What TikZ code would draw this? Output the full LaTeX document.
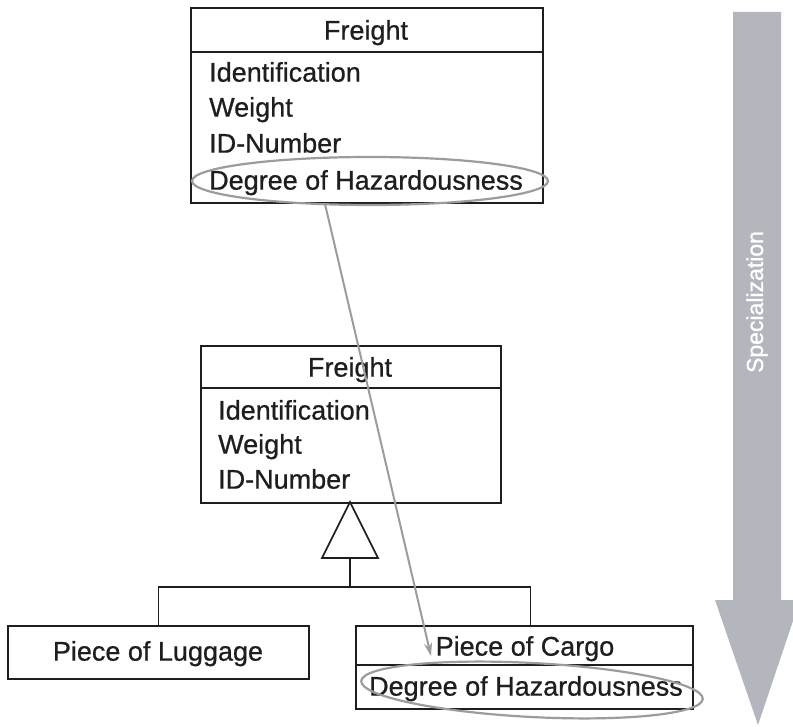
\documentclass[tikz,border=0pt]{standalone}
\usepackage{fontspec}
\setmainfont{Liberation Sans}[FakeBold=0.7]
\newfontfamily\specfont{Liberation Sans}[FakeBold=1.2]
\usetikzlibrary{shapes.geometric,arrows.meta}
\definecolor{arrowgray}{HTML}{B3B6BC}
\definecolor{hlgray}{HTML}{9C9C9C}
\definecolor{ink}{HTML}{1E1E1E}
\begin{document}
\begin{tikzpicture}[x=1pt,y=-1pt,
  box/.style={draw=ink,line width=2pt,inner sep=0pt,anchor=north west},
  boxline/.style={draw=ink,line width=1.8pt},
  lbl/.style={font=\fontsize{27}{30}\selectfont,inner sep=0pt,text=ink,text height=19.3pt,text depth=0pt},
  row/.style={lbl,anchor=west},
  conn/.style={draw=ink,line width=1.6pt},
  hl/.style={draw=hlgray,line width=2pt},
  hlell/.style={ellipse,draw=hlgray,line width=2.2pt,inner sep=0pt}]
\useasboundingbox (0,0) rectangle (793,727);
\fill[white] (0,0) rectangle (793,727);

% big specialization arrow
\fill[arrowgray] (733,12) -- (781,12) -- (781,600) -- (800,600) -- (758,725) -- (715,600) -- (733,600) -- cycle;
\node[font=\specfont\fontsize{23}{26}\selectfont,text=white,rotate=90,inner sep=0pt] (spec) at (757,302) {Specialization};

% top Freight class
\node[box,minimum width=352pt,minimum height=195pt] (f1) at (190,7) {};
\draw[boxline] ([yshift=-45pt]f1.north west) -- ([yshift=-45pt]f1.north east);
\node[lbl] (f1t) at (366,30) {Freight};
\node[row] (f1a) at (209,72) {Identification};
\node[row] (f1b) at (209,107) {Weight};
\node[row] (f1c) at (209,143) {ID-Number};
\node[row] (f1d) at (209,180) {Degree of Hazardousness};

% middle Freight class
\node[box,minimum width=300pt,minimum height=157pt] (f2) at (200,345) {};
\draw[boxline] ([yshift=-43pt]f2.north west) -- ([yshift=-43pt]f2.north east);
\node[lbl] (f2t) at (350,367) {Freight};
\node[row] (f2a) at (218,410) {Identification};
\node[row] (f2b) at (218,444) {Weight};
\node[row] (f2c) at (218,479) {ID-Number};

% generalization triangle
\coordinate (triapex) at (350,502);
\coordinate (tribase) at (350,558);
\draw[conn,fill=white] (triapex) -- (378,558) -- (322,558) -- cycle;

% subclasses
\node[box,minimum width=301pt,minimum height=53pt] (lug) at (7,625) {};
\node[lbl] (lugt) at (158,651) {Piece of Luggage};
\node[box,minimum width=337pt,minimum height=83pt] (cg) at (355,625) {};
\draw[boxline] ([yshift=-40pt]cg.north west) -- ([yshift=-40pt]cg.north east);
\node[lbl] (cgt) at (525,646) {Piece of Cargo};
\node[lbl] (cgd) at (526,686) {Degree of Hazardousness};

% inheritance connectors
\coordinate (bar) at (350,587);
\draw[conn] (tribase) -- (bar);
\draw[conn] (lug.north) -- ++(0,-38) -| ([xshift=6pt]cg.north);

% highlight ellipses
\node[hlell,minimum width=356pt,minimum height=48pt] (e1) at (370,181) {};
\node[hlell,minimum width=342pt,minimum height=54pt,rotate=-3] (e2) at (532,690) {};

% moved attribute connector
\coordinate (hz1) at (325,204);
\coordinate (hz2) at (431,656);
\draw[hl,-{Stealth[length=13pt,width=8pt]}] (hz1) -- (hz2);
\end{tikzpicture}
\end{document}
